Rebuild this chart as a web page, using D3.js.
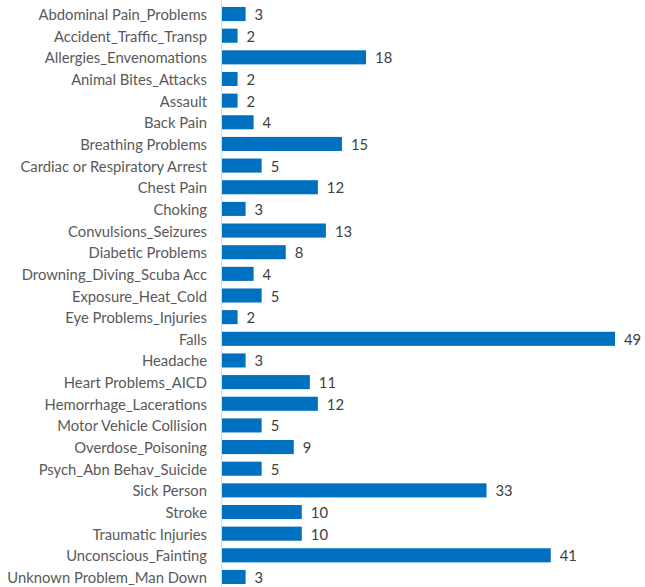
<!DOCTYPE html>
<html><head><meta charset="utf-8">
<script src="https://cdn.jsdelivr.net/npm/d3@7"></script>
<style>body{margin:0;background:#fff}svg{display:block}</style>
</head><body>
<svg id="c" width="645" height="587"></svg>
<script>
const categories = ["Abdominal Pain_Problems","Accident_Traffic_Transp","Allergies_Envenomations","Animal Bites_Attacks","Assault","Back Pain","Breathing Problems","Cardiac or Respiratory Arrest","Chest Pain","Choking","Convulsions_Seizures","Diabetic Problems","Drowning_Diving_Scuba Acc","Exposure_Heat_Cold","Eye Problems_Injuries","Falls","Headache","Heart Problems_AICD","Hemorrhage_Lacerations","Motor Vehicle Collision","Overdose_Poisoning","Psych_Abn Behav_Suicide","Sick Person","Stroke","Traumatic Injuries","Unconscious_Fainting","Unknown Problem_Man Down"];
const values = [3,2,18,2,2,4,15,5,12,3,13,8,4,5,2,49,3,11,12,5,9,5,33,10,10,41,3];

const svg = d3.select("#c");
const x0 = 221.5;
const x = d3.scaleLinear().domain([0,49]).range([x0, 615]);
const y = d3.scaleBand().domain(categories).range([3.2, 587.8]).paddingInner(0.35).paddingOuter(0.175);

svg.append("g").selectAll("rect").data(values).join("rect")
  .attr("x", x(0)+0.5)
  .attr("y", (d,i)=>y(categories[i]))
  .attr("width", d=>x(d)-x(0)-0.5)
  .attr("height", y.bandwidth())
  .attr("fill", "#0070C0");

svg.append("line").attr("x1",x0).attr("x2",x0).attr("y1",0).attr("y2",587)
  .attr("stroke","#D9D9D9").attr("stroke-width",1);

svg.append("g").selectAll("text").data(categories).join("text")
  .attr("x", 207).attr("y", d=>y(d)+y.bandwidth()/2)
  .attr("text-anchor","end").attr("dominant-baseline","central")
  .attr("font-family","Lato, 'Open Sans', sans-serif").attr("font-size",14.8)
  .attr("fill","#595959").text(d=>d);

svg.append("g").selectAll("text").data(values).join("text")
  .attr("x", d=>x(d)+9).attr("y", (d,i)=>y(categories[i])+y.bandwidth()/2)
  .attr("dominant-baseline","central")
  .attr("font-family","Lato, 'Open Sans', sans-serif").attr("font-size",14.8)
  .attr("fill","#404040").text(d=>d);
</script>
</body></html>
